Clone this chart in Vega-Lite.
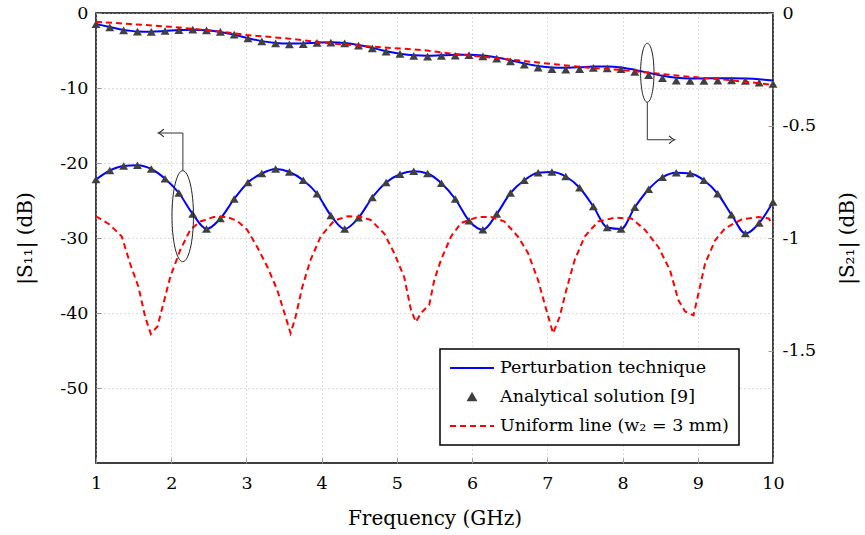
{
  "$schema": "https://vega.github.io/schema/vega-lite/v6.json",
  "width": 677,
  "height": 450,
  "autosize": "none",
  "padding": {"left": 96, "top": 13, "right": 92, "bottom": 72},
  "background": "white",
  "config": {
    "font": "DejaVu Serif",
    "view": {"stroke": "black", "strokeWidth": 1.5},
    "axis": {
      "labelFont": "DejaVu Serif", "labelFontSize": 17.5, "labelColor": "black",
      "titleFont": "DejaVu Serif", "titleFontSize": 20, "titleFontWeight": "normal", "titleColor": "black",
      "domain": false, "tickColor": "#999999", "tickSize": -5, "tickWidth": 1,
      "gridColor": "#bbbbbb", "gridDash": [1, 3], "gridWidth": 1, "labelFlush": false
    },
    "point": {"opacity": 1}
  },
  "datasets": {
    "pert": [
      {"f": 1.000, "s11": -22.2, "s21": -0.049}, {"f": 1.184, "s11": -21.0, "s21": -0.062},
      {"f": 1.367, "s11": -20.4, "s21": -0.075}, {"f": 1.551, "s11": -20.3, "s21": -0.082},
      {"f": 1.735, "s11": -20.8, "s21": -0.083}, {"f": 1.918, "s11": -22.1, "s21": -0.080},
      {"f": 2.102, "s11": -24.0, "s21": -0.076}, {"f": 2.286, "s11": -26.8, "s21": -0.074},
      {"f": 2.469, "s11": -28.8, "s21": -0.077}, {"f": 2.653, "s11": -27.4, "s21": -0.084},
      {"f": 2.837, "s11": -24.8, "s21": -0.096}, {"f": 3.020, "s11": -22.6, "s21": -0.112},
      {"f": 3.204, "s11": -21.4, "s21": -0.125}, {"f": 3.388, "s11": -20.8, "s21": -0.133},
      {"f": 3.571, "s11": -21.2, "s21": -0.136}, {"f": 3.755, "s11": -22.3, "s21": -0.135},
      {"f": 3.939, "s11": -24.1, "s21": -0.132}, {"f": 4.122, "s11": -27.0, "s21": -0.130},
      {"f": 4.306, "s11": -28.8, "s21": -0.133}, {"f": 4.490, "s11": -27.3, "s21": -0.142},
      {"f": 4.673, "s11": -24.6, "s21": -0.155}, {"f": 4.857, "s11": -22.6, "s21": -0.170},
      {"f": 5.041, "s11": -21.5, "s21": -0.181}, {"f": 5.224, "s11": -21.1, "s21": -0.188},
      {"f": 5.408, "s11": -21.4, "s21": -0.190}, {"f": 5.592, "s11": -22.7, "s21": -0.188},
      {"f": 5.776, "s11": -24.8, "s21": -0.186}, {"f": 5.959, "s11": -27.7, "s21": -0.185},
      {"f": 6.143, "s11": -28.9, "s21": -0.189}, {"f": 6.327, "s11": -26.8, "s21": -0.198},
      {"f": 6.510, "s11": -24.0, "s21": -0.210}, {"f": 6.694, "s11": -22.3, "s21": -0.224},
      {"f": 6.878, "s11": -21.3, "s21": -0.236}, {"f": 7.061, "s11": -21.2, "s21": -0.242},
      {"f": 7.245, "s11": -21.8, "s21": -0.243}, {"f": 7.429, "s11": -23.3, "s21": -0.241},
      {"f": 7.612, "s11": -25.8, "s21": -0.238}, {"f": 7.796, "s11": -28.6, "s21": -0.238},
      {"f": 7.980, "s11": -28.8, "s21": -0.242}, {"f": 8.163, "s11": -25.9, "s21": -0.253},
      {"f": 8.347, "s11": -23.5, "s21": -0.266}, {"f": 8.531, "s11": -21.9, "s21": -0.279},
      {"f": 8.714, "s11": -21.3, "s21": -0.288}, {"f": 8.898, "s11": -21.4, "s21": -0.291},
      {"f": 9.082, "s11": -22.3, "s21": -0.291}, {"f": 9.265, "s11": -24.1, "s21": -0.290},
      {"f": 9.449, "s11": -26.9, "s21": -0.290}, {"f": 9.633, "s11": -29.4, "s21": -0.291},
      {"f": 9.816, "s11": -28.0, "s21": -0.294}, {"f": 10.000, "s11": -25.2, "s21": -0.300}
    ],
    "anal": [
      {"f": 1.000, "s11": -22.2, "s21": -0.049}, {"f": 1.184, "s11": -21.0, "s21": -0.064},
      {"f": 1.367, "s11": -20.4, "s21": -0.077}, {"f": 1.551, "s11": -20.3, "s21": -0.083},
      {"f": 1.735, "s11": -20.8, "s21": -0.084}, {"f": 1.918, "s11": -22.1, "s21": -0.080},
      {"f": 2.102, "s11": -24.0, "s21": -0.076}, {"f": 2.286, "s11": -26.8, "s21": -0.074},
      {"f": 2.469, "s11": -28.8, "s21": -0.077}, {"f": 2.653, "s11": -27.4, "s21": -0.084},
      {"f": 2.837, "s11": -24.8, "s21": -0.096}, {"f": 3.020, "s11": -22.6, "s21": -0.113},
      {"f": 3.204, "s11": -21.4, "s21": -0.126}, {"f": 3.388, "s11": -20.8, "s21": -0.135},
      {"f": 3.571, "s11": -21.2, "s21": -0.139}, {"f": 3.755, "s11": -22.3, "s21": -0.138},
      {"f": 3.939, "s11": -24.1, "s21": -0.133}, {"f": 4.122, "s11": -27.0, "s21": -0.132},
      {"f": 4.306, "s11": -28.8, "s21": -0.135}, {"f": 4.490, "s11": -27.3, "s21": -0.145},
      {"f": 4.673, "s11": -24.6, "s21": -0.157}, {"f": 4.857, "s11": -22.6, "s21": -0.172},
      {"f": 5.041, "s11": -21.5, "s21": -0.182}, {"f": 5.224, "s11": -21.1, "s21": -0.191},
      {"f": 5.408, "s11": -21.4, "s21": -0.194}, {"f": 5.592, "s11": -22.7, "s21": -0.191},
      {"f": 5.776, "s11": -24.8, "s21": -0.190}, {"f": 5.959, "s11": -27.7, "s21": -0.187},
      {"f": 6.143, "s11": -28.9, "s21": -0.193}, {"f": 6.327, "s11": -26.8, "s21": -0.203},
      {"f": 6.510, "s11": -24.0, "s21": -0.215}, {"f": 6.694, "s11": -22.3, "s21": -0.230},
      {"f": 6.878, "s11": -21.3, "s21": -0.243}, {"f": 7.061, "s11": -21.2, "s21": -0.250},
      {"f": 7.245, "s11": -21.8, "s21": -0.252}, {"f": 7.429, "s11": -23.3, "s21": -0.249},
      {"f": 7.612, "s11": -25.8, "s21": -0.244}, {"f": 7.796, "s11": -28.6, "s21": -0.246},
      {"f": 7.980, "s11": -28.8, "s21": -0.250}, {"f": 8.163, "s11": -25.9, "s21": -0.262},
      {"f": 8.347, "s11": -23.5, "s21": -0.276}, {"f": 8.531, "s11": -21.9, "s21": -0.290},
      {"f": 8.714, "s11": -21.3, "s21": -0.301}, {"f": 8.898, "s11": -21.4, "s21": -0.302},
      {"f": 9.082, "s11": -22.3, "s21": -0.302}, {"f": 9.265, "s11": -24.1, "s21": -0.301},
      {"f": 9.449, "s11": -26.9, "s21": -0.299}, {"f": 9.633, "s11": -29.4, "s21": -0.302},
      {"f": 9.816, "s11": -28.0, "s21": -0.310}, {"f": 10.000, "s11": -25.2, "s21": -0.315}
    ],
    "unif11": [
      {"f": 1.000, "s11": -27.1}, {"f": 1.180, "s11": -28.2}, {"f": 1.343, "s11": -29.8},
      {"f": 1.453, "s11": -33.4}, {"f": 1.564, "s11": -36.5}, {"f": 1.653, "s11": -40.5},
      {"f": 1.729, "s11": -42.8}, {"f": 1.817, "s11": -41.8}, {"f": 1.897, "s11": -38.7},
      {"f": 1.987, "s11": -35.2}, {"f": 2.120, "s11": -31.6}, {"f": 2.253, "s11": -28.9},
      {"f": 2.387, "s11": -27.8}, {"f": 2.564, "s11": -27.2}, {"f": 2.743, "s11": -27.2},
      {"f": 2.876, "s11": -27.7}, {"f": 3.009, "s11": -28.9}, {"f": 3.143, "s11": -31.2},
      {"f": 3.276, "s11": -33.8}, {"f": 3.409, "s11": -36.9}, {"f": 3.520, "s11": -40.5},
      {"f": 3.587, "s11": -42.7}, {"f": 3.653, "s11": -40.5}, {"f": 3.743, "s11": -36.5},
      {"f": 3.853, "s11": -32.9}, {"f": 3.987, "s11": -29.8}, {"f": 4.164, "s11": -27.7},
      {"f": 4.343, "s11": -27.1}, {"f": 4.520, "s11": -27.2}, {"f": 4.653, "s11": -27.6},
      {"f": 4.831, "s11": -29.4}, {"f": 4.964, "s11": -32.0}, {"f": 5.097, "s11": -35.2},
      {"f": 5.187, "s11": -39.6}, {"f": 5.253, "s11": -41.2}, {"f": 5.320, "s11": -40.0},
      {"f": 5.431, "s11": -38.9}, {"f": 5.497, "s11": -35.6}, {"f": 5.587, "s11": -32.9},
      {"f": 5.720, "s11": -29.8}, {"f": 5.853, "s11": -28.0}, {"f": 6.076, "s11": -27.2},
      {"f": 6.253, "s11": -27.2}, {"f": 6.431, "s11": -27.8}, {"f": 6.609, "s11": -29.8},
      {"f": 6.743, "s11": -32.0}, {"f": 6.876, "s11": -35.6}, {"f": 6.987, "s11": -39.6},
      {"f": 7.076, "s11": -42.7}, {"f": 7.164, "s11": -40.5}, {"f": 7.253, "s11": -36.9},
      {"f": 7.364, "s11": -32.9}, {"f": 7.497, "s11": -29.8}, {"f": 7.676, "s11": -27.8},
      {"f": 7.897, "s11": -27.3}, {"f": 8.120, "s11": -27.4}, {"f": 8.297, "s11": -28.9},
      {"f": 8.476, "s11": -31.2}, {"f": 8.631, "s11": -34.3}, {"f": 8.743, "s11": -38.3},
      {"f": 8.831, "s11": -39.8}, {"f": 8.943, "s11": -40.3}, {"f": 9.009, "s11": -37.4},
      {"f": 9.097, "s11": -33.4}, {"f": 9.231, "s11": -30.3}, {"f": 9.364, "s11": -28.7},
      {"f": 9.587, "s11": -27.5}, {"f": 9.809, "s11": -27.2}, {"f": 9.943, "s11": -27.4},
      {"f": 10.000, "s11": -28.3}
    ],
    "unif21": [
      {"f": 1.000, "s21": -0.039}, {"f": 1.453, "s21": -0.049}, {"f": 1.987, "s21": -0.061},
      {"f": 2.560, "s21": -0.079}, {"f": 3.009, "s21": -0.098}, {"f": 3.543, "s21": -0.113},
      {"f": 4.120, "s21": -0.135}, {"f": 4.693, "s21": -0.150}, {"f": 5.320, "s21": -0.164},
      {"f": 5.760, "s21": -0.182}, {"f": 6.209, "s21": -0.197}, {"f": 6.653, "s21": -0.212},
      {"f": 7.093, "s21": -0.228}, {"f": 7.543, "s21": -0.243}, {"f": 7.987, "s21": -0.253},
      {"f": 8.427, "s21": -0.268}, {"f": 8.876, "s21": -0.283}, {"f": 9.320, "s21": -0.295},
      {"f": 9.760, "s21": -0.310}, {"f": 10.000, "s21": -0.320}
    ],
    "annLines": [
      {"id": "a1", "o": 1, "f": 2.155, "s11": -21.0},
      {"id": "a1", "o": 2, "f": 2.155, "s11": -16.0},
      {"id": "a1", "o": 3, "f": 1.84, "s11": -16.0},
      {"id": "a2", "o": 1, "f": 8.329, "s11": -11.9},
      {"id": "a2", "o": 2, "f": 8.329, "s11": -16.9},
      {"id": "a2", "o": 3, "f": 8.65, "s11": -16.9}
    ],
    "ell1": [{"f": 2.153, "s11": -27.09}],
    "ell2": [{"f": 8.329, "s11": -7.97}],
    "tipL": [{"f": 1.83, "s11": -16.0}],
    "tipR": [{"f": 8.69, "s11": -16.9}]
  },
  "encoding": {
    "x": {"field": "f", "type": "quantitative", "scale": {"domain": [1, 10], "nice": false, "zero": false},
      "axis": {"title": "Frequency (GHz)", "values": [1, 2, 3, 4, 5, 6, 7, 8, 9, 10], "grid": true, "labelPadding": 16, "titlePadding": 17}}
  },
  "layer": [
    {
      "data": {"name": "pert"},
      "transform": [{"calculate": "'Perturbation technique'", "as": "series"}],
      "mark": {"type": "line", "strokeWidth": 2, "interpolate": "monotone"},
      "encoding": {
        "y": {"field": "s11", "type": "quantitative", "scale": {"domain": [-60, 0], "nice": false, "zero": false},
          "axis": {"title": "|S₁₁| (dB)", "orient": "left", "values": [0, -10, -20, -30, -40, -50], "grid": true, "labelExpr": "'' + datum.value", "labelPadding": 13, "titlePadding": 24}},
        "color": {"field": "series", "type": "nominal",
          "scale": {"domain": ["Perturbation technique", "Analytical solution [9]", "Uniform line (w₂ = 3 mm)"], "range": ["#0000ff", "#404040", "#ff0000"]},
          "legend": {
            "title": null, "orient": "none", "legendX": 344, "legendY": 336,
            "strokeColor": "black", "fillColor": "white", "padding": 10, "cornerRadius": 0,
            "labelFont": "DejaVu Serif", "labelFontSize": 17.5, "labelColor": "black", "labelLimit": 400,
            "symbolSize": 100, "symbolOffset": 0, "labelOffset": 4, "rowPadding": 11, "clipHeight": 18,
            "encode": {
              "legend": {"update": {"strokeWidth": {"value": 1.5}}},
              "symbols": {"update": {
                "x": {"value": 22},
                "shape": {"signal": "datum.value === 'Analytical solution [9]' ? 'triangle-up' : 'stroke'"},
                "size": {"signal": "datum.value === 'Analytical solution [9]' ? 55 : 1936"},
                "strokeDash": {"signal": "datum.value === 'Uniform line (w₂ = 3 mm)' ? [6, 4] : [1, 0]"},
                "stroke": {"signal": "datum.value === 'Analytical solution [9]' ? 'transparent' : scale('color', datum.value)"},
                "fill": {"signal": "datum.value === 'Analytical solution [9]' ? '#404040' : 'transparent'"},
                "strokeWidth": {"value": 2},
                "opacity": {"value": 1}
              }}
            }
          }}
      }
    },
    {
      "data": {"name": "anal"},
      "transform": [{"calculate": "'Analytical solution [9]'", "as": "series"}],
      "mark": {"type": "point", "shape": "triangle-up", "filled": true, "size": 80},
      "encoding": {
        "y": {"field": "s11", "type": "quantitative", "scale": {"domain": [-60, 0], "nice": false, "zero": false}, "axis": null},
        "color": {"field": "series", "type": "nominal", "legend": null}
      }
    },
    {
      "data": {"name": "unif11"},
      "transform": [{"calculate": "'Uniform line (w₂ = 3 mm)'", "as": "series"}],
      "mark": {"type": "line", "strokeWidth": 2, "strokeDash": [6, 4]},
      "encoding": {
        "y": {"field": "s11", "type": "quantitative", "scale": {"domain": [-60, 0], "nice": false, "zero": false}, "axis": null},
        "color": {"field": "series", "type": "nominal", "legend": null}
      }
    },
    {
      "data": {"name": "pert"},
      "transform": [{"calculate": "'Perturbation technique'", "as": "series"}],
      "mark": {"type": "line", "strokeWidth": 2, "interpolate": "monotone"},
      "encoding": {
        "y": {"field": "s21", "type": "quantitative", "scale": {"domain": [-2, 0], "nice": false, "zero": false},
          "axis": {"title": "|S₂₁| (dB)", "orient": "right", "values": [0, -0.5, -1, -1.5], "grid": false, "labelExpr": "'' + datum.value", "labelPadding": 14, "titlePadding": 22, "titleAngle": -90, "titleBaseline": "top"}},
        "color": {"field": "series", "type": "nominal", "legend": null}
      }
    },
    {
      "data": {"name": "anal"},
      "transform": [{"calculate": "'Analytical solution [9]'", "as": "series"}],
      "mark": {"type": "point", "shape": "triangle-up", "filled": true, "size": 80},
      "encoding": {
        "y": {"field": "s21", "type": "quantitative", "scale": {"domain": [-2, 0], "nice": false, "zero": false}, "axis": null},
        "color": {"field": "series", "type": "nominal", "legend": null}
      }
    },
    {
      "data": {"name": "unif21"},
      "transform": [{"calculate": "'Uniform line (w₂ = 3 mm)'", "as": "series"}],
      "mark": {"type": "line", "strokeWidth": 2, "strokeDash": [6, 4]},
      "encoding": {
        "y": {"field": "s21", "type": "quantitative", "scale": {"domain": [-2, 0], "nice": false, "zero": false}, "axis": null},
        "color": {"field": "series", "type": "nominal", "legend": null}
      }
    },
    {
      "data": {"name": "annLines"},
      "mark": {"type": "line", "color": "#333333", "strokeWidth": 1},
      "encoding": {
        "y": {"field": "s11", "type": "quantitative", "scale": {"domain": [-60, 0], "nice": false, "zero": false}, "axis": null},
        "detail": {"field": "id"},
        "order": {"field": "o"}
      }
    },
    {
      "data": {"name": "ell1"},
      "mark": {"type": "point", "filled": false, "stroke": "#222222", "strokeWidth": 1, "size": 8281,
        "shape": "M0,-1A0.236,1,0,1,1,0,1A0.236,1,0,1,1,0,-1Z"},
      "encoding": {
        "y": {"field": "s11", "type": "quantitative", "scale": {"domain": [-60, 0], "nice": false, "zero": false}, "axis": null}
      }
    },
    {
      "data": {"name": "ell2"},
      "mark": {"type": "point", "filled": false, "stroke": "#222222", "strokeWidth": 1, "size": 3481,
        "shape": "M0,-1A0.227,1,0,1,1,0,1A0.227,1,0,1,1,0,-1Z"},
      "encoding": {
        "y": {"field": "s11", "type": "quantitative", "scale": {"domain": [-60, 0], "nice": false, "zero": false}, "axis": null}
      }
    },
    {
      "data": {"name": "tipL"},
      "mark": {"type": "point", "filled": false, "stroke": "#222222", "strokeWidth": 1.2, "size": 144,
        "shape": "M0.9,-0.65Q0.35,-0.12,0,0Q0.35,0.12,0.9,0.65"},
      "encoding": {
        "y": {"field": "s11", "type": "quantitative", "scale": {"domain": [-60, 0], "nice": false, "zero": false}, "axis": null}
      }
    },
    {
      "data": {"name": "tipR"},
      "mark": {"type": "point", "filled": false, "stroke": "#222222", "strokeWidth": 1.2, "size": 144,
        "shape": "M-0.9,-0.65Q-0.35,-0.12,0,0Q-0.35,0.12,-0.9,0.65"},
      "encoding": {
        "y": {"field": "s11", "type": "quantitative", "scale": {"domain": [-60, 0], "nice": false, "zero": false}, "axis": null}
      }
    }
  ],
  "resolve": {"scale": {"y": "independent"}}
}
